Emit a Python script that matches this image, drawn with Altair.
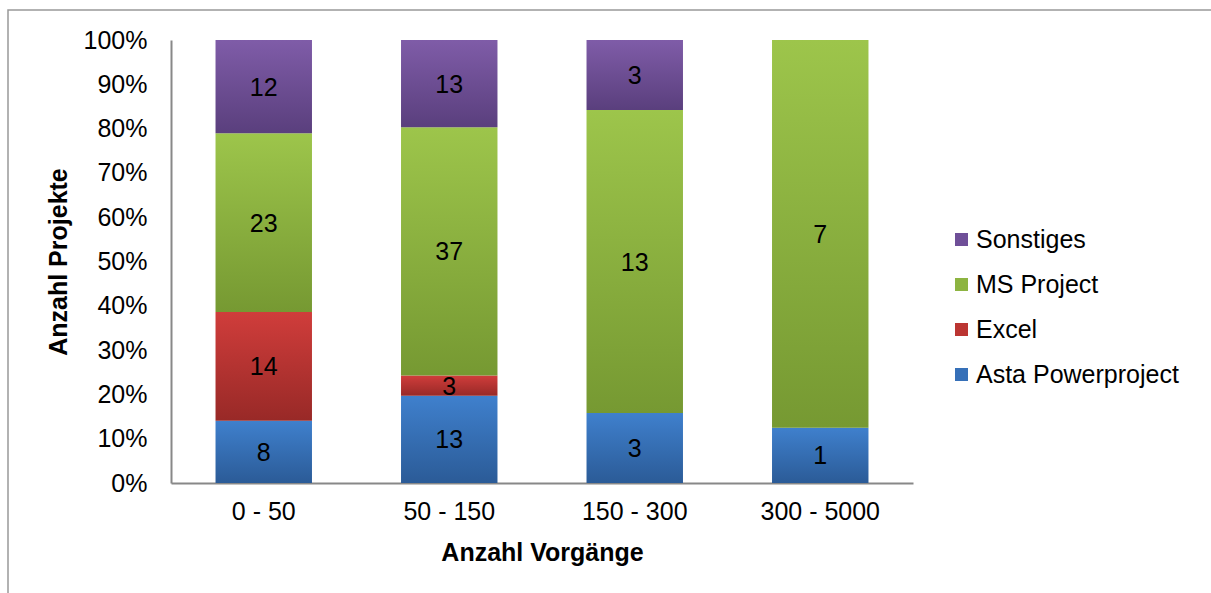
import altair as alt
import pandas as pd

categories = ["0 - 50", "50 - 150", "150 - 300", "300 - 5000"]
series = ["Asta Powerproject", "Excel", "MS Project", "Sonstiges"]
asta = [8, 13, 3, 1]
excel = [14, 3, 0, 0]
ms_project = [23, 37, 13, 7]
sonstiges = [12, 13, 3, 0]

legend_order = ["Sonstiges", "MS Project", "Excel", "Asta Powerproject"]
legend_colors = ["#6f4f98", "#8db441", "#bb3532", "#3670b8"]
grad_top = {"Asta Powerproject": "#3f80cd", "Excel": "#d03d3b",
            "MS Project": "#9dc54b", "Sonstiges": "#7f5ca8"}
grad_bot = {"Asta Powerproject": "#2b5b97", "Excel": "#982927",
            "MS Project": "#769932", "Sonstiges": "#5a3f7d"}

rows = []
for i, c in enumerate(categories):
    for k, (s, vals) in enumerate(zip(series, [asta, excel, ms_project, sonstiges])):
        rows.append({"cat": c, "series": s, "order": k, "value": vals[i]})
df = pd.DataFrame(rows)

FONT = "Liberation Sans"
FS = 25

base = alt.Chart(df).transform_stack(
    stack="value", groupby=["cat"], sort=[alt.SortField("order", "ascending")],
    as_=["y0", "y1"], offset="normalize"
)

x_enc = alt.X("cat:N", sort=categories,
              scale=alt.Scale(paddingInner=0.48, paddingOuter=0.24),
              axis=alt.Axis(title="Anzahl Vorgänge", labelAngle=0, ticks=False,
                            labelPadding=16, titlePadding=16, labelFontSize=FS,
                            titleFontSize=FS, titleFontWeight="bold",
                            labelFont=FONT, titleFont=FONT, labelColor="#000",
                            titleColor="#000", domainColor="#888888", domainWidth=2))
y_enc = alt.Y("y0:Q", scale=alt.Scale(domain=[0, 1], nice=False),
              axis=alt.Axis(title="Anzahl Projekte", format=".0%",
                            values=[i / 10 for i in range(11)], ticks=False,
                            grid=False, labelPadding=24, titlePadding=12,
                            labelFontSize=FS, titleFontSize=FS,
                            titleFontWeight="bold", labelFont=FONT,
                            titleFont=FONT, labelColor="#000", titleColor="#000",
                            domainColor="#888888", domainWidth=2))

layers = []
# invisible layer for the legend
layers.append(
    base.mark_bar(opacity=0).encode(
        x=x_enc, y=y_enc, y2="y1:Q",
        color=alt.Color("series:N",
                        scale=alt.Scale(domain=legend_order, range=legend_colors),
                        legend=alt.Legend(title=None, orient="none",
                                          legendX=778, legendY=187,
                                          labelFontSize=FS, labelFont=FONT,
                                          labelColor="#000", labelLimit=400,
                                          symbolType="square", symbolSize=169,
                                          symbolOpacity=1, symbolStrokeWidth=0,
                                          rowPadding=19, labelOffset=2,
                                          padding=0))
    )
)

for s in series:
    grad = {"gradient": "linear", "x1": 0, "x2": 0, "y1": 0, "y2": 1,
            "stops": [{"offset": 0, "color": grad_top[s]},
                      {"offset": 1, "color": grad_bot[s]}]}
    layers.append(
        base.transform_filter((alt.datum.series == s) & (alt.datum.value > 0))
        .mark_bar(fill=grad, strokeOpacity=0)
        .encode(x=x_enc, y=y_enc, y2="y1:Q")
    )

labels = base.transform_filter(alt.datum.value > 0).transform_calculate(
    mid="(datum.y0 + datum.y1) / 2"
).mark_text(fontSize=FS, font=FONT, color="#000", baseline="middle", dy=1).encode(
    x=x_enc, y=alt.Y("mid:Q"), text="value:Q"
)
layers.append(labels)

frame = alt.Chart(pd.DataFrame({"a": [0]})).mark_rect(
    fillOpacity=0, stroke="#999999", strokeWidth=1.5, clip=False
).encode(x=alt.value(-163), x2=alt.value(1060), y=alt.value(-30), y2=alt.value(620))
layers.append(frame)

chart = alt.layer(*layers).properties(
    width=742, height=443,
    padding={"left": 171, "top": 40, "right": 298, "bottom": 110},
    autosize="none",
).configure_view(stroke=None)

chart.save("out.html", embed_options={"renderer": "svg", "actions": False})
